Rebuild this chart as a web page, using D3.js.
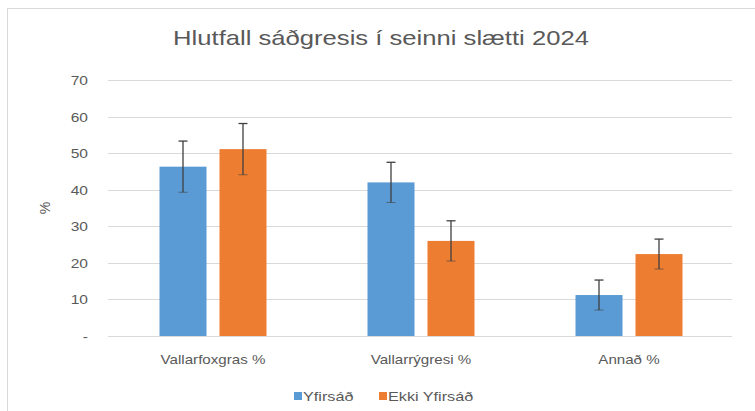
<!DOCTYPE html>
<html><head><meta charset="utf-8">
<script src="https://cdn.jsdelivr.net/npm/d3@7"></script>
<style>body{margin:0;background:#fff;}svg{display:block;}</style>
</head><body>
<svg id="c" width="755" height="411"></svg>
<script>
const categories = ["Vallarfoxgras %", "Vallarrýgresi %", "Annað %"];
const seriesNames = ["Yfirsáð", "Ekki Yfirsáð"];
const yfirsad = [46.3, 42.0, 11.2];
const ekkiYfirsad = [51.1, 26.0, 22.4];
const yfirsadErr = [7.0, 5.5, 4.1];
const ekkiYfirsadErr = [7.0, 5.5, 4.1];
const yTicks = [0, 10, 20, 30, 40, 50, 60, 70];
const colors = ["#5B9BD5", "#ED7D31"];

const svg = d3.select("#c");
const font = "'Liberation Sans', Arial, sans-serif";
function stretch(sel, k) {
  sel.each(function () {
    const w = this.getComputedTextLength();
    d3.select(this).attr("textLength", w * k).attr("lengthAdjust", "spacingAndGlyphs");
  });
}

// chart border
svg.append("rect").attr("x", 7.5).attr("y", 8.5).attr("width", 760).attr("height", 420)
  .attr("fill", "#fff").attr("stroke", "#d9d9d9").attr("stroke-width", 1);

const x = d3.scaleBand().domain(categories).range([109, 733]);
const y = d3.scaleLinear().domain([0, 70]).range([336, 80]);

// gridlines
svg.append("g").selectAll("line").data(yTicks).join("line")
  .attr("x1", 108).attr("x2", 732)
  .attr("y1", d => Math.round(y(d)) + 0.5).attr("y2", d => Math.round(y(d)) + 0.5)
  .attr("stroke", "#d9d9d9").attr("stroke-width", 1);

// y tick labels
svg.append("g").selectAll("text").data(yTicks).join("text")
  .attr("x", 88).attr("y", d => y(d) + 5)
  .attr("text-anchor", "end").attr("font-family", font).attr("font-size", 13.5)
  .attr("fill", "#595959")
  .text(d => d === 0 ? "-" : d)
  .call(stretch, 1.15);

// y axis title
svg.append("text").attr("transform", "translate(50,208) rotate(-90)")
  .attr("text-anchor", "middle").attr("font-family", font).attr("font-size", 14)
  .attr("fill", "#595959").text("%");

// bars
const inner = d3.scaleBand().domain(seriesNames).range([0, 107]).paddingInner(13/60);
const data = [];
categories.forEach((c, i) => {
  data.push({c, s: seriesNames[0], v: yfirsad[i], e: yfirsadErr[i]});
  data.push({c, s: seriesNames[1], v: ekkiYfirsad[i], e: ekkiYfirsadErr[i]});
});
const off = (x.bandwidth() - 107) / 2;
const bx = d => x(d.c) + off + inner(d.s);

svg.append("g").selectAll("rect").data(data).join("rect")
  .attr("x", bx).attr("y", d => y(d.v))
  .attr("width", inner.bandwidth()).attr("height", d => y(0) - y(d.v))
  .attr("fill", (d) => colors[seriesNames.indexOf(d.s)]);

// error bars
const eg = svg.append("g").attr("stroke", "#404040").attr("stroke-width", 1.3);
data.forEach(d => {
  const cx = bx(d) + inner.bandwidth() / 2;
  eg.append("line").attr("x1", cx).attr("x2", cx).attr("y1", y(d.v + d.e)).attr("y2", y(d.v - d.e));
  eg.append("line").attr("x1", cx - 4.5).attr("x2", cx + 4.5).attr("y1", y(d.v + d.e)).attr("y2", y(d.v + d.e));
  eg.append("line").attr("x1", cx - 4.5).attr("x2", cx + 4.5).attr("y1", y(d.v - d.e)).attr("y2", y(d.v - d.e)).attr("stroke-width", 0.6);
});

// category labels
svg.append("g").selectAll("text").data(categories).join("text")
  .attr("x", d => x(d) + x.bandwidth() / 2).attr("y", 364)
  .attr("text-anchor", "middle").attr("font-family", font).attr("font-size", 13.5)
  .attr("fill", "#595959").text(d => d)
  .call(stretch, 1.12);

// title
svg.append("text").attr("x", 381).attr("y", 45).attr("text-anchor", "middle")
  .attr("font-family", font).attr("font-size", 21).attr("fill", "#595959")
  .text("Hlutfall sáðgresis í seinni slætti 2024")
  .call(stretch, 1.22);

// legend
const legX = [294, 379];
const lg = svg.append("g");
seriesNames.forEach((s, i) => {
  lg.append("rect").attr("x", legX[i]).attr("y", 392).attr("width", 8).attr("height", 8).attr("fill", colors[i]);
  lg.append("text").attr("x", legX[i] + 9).attr("y", 401).attr("font-family", font)
    .attr("font-size", 13.5).attr("fill", "#595959").text(s)
    .call(stretch, 1.2);
});
</script>
</body></html>
